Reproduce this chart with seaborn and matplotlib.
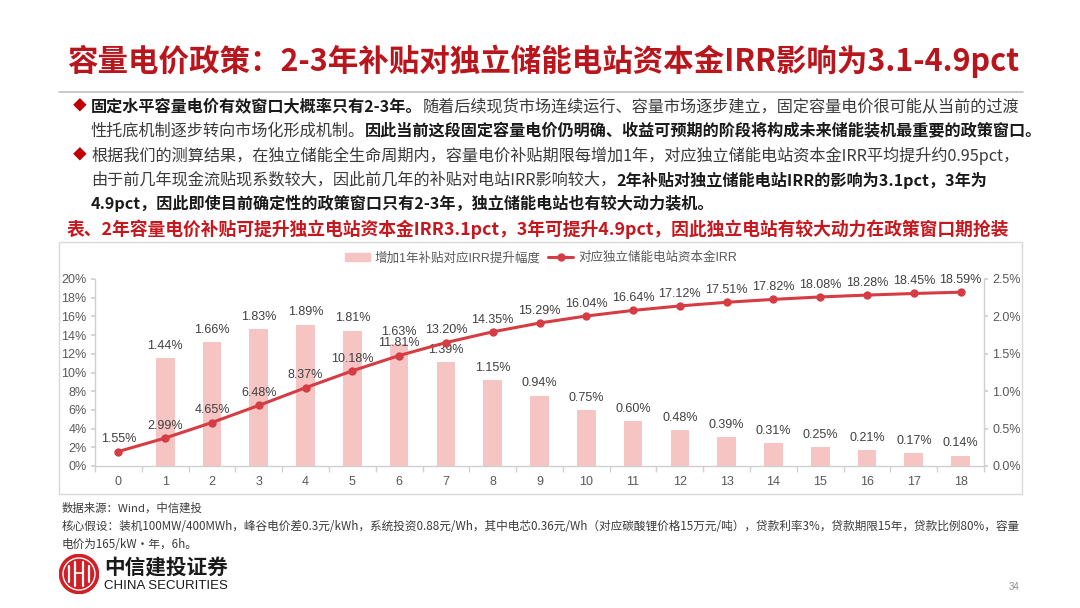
import matplotlib
matplotlib.use("Agg")
import matplotlib.pyplot as plt
import matplotlib.patches as mpatches
from matplotlib.lines import Line2D
import seaborn as sns
import numpy as np
import pandas as pd

# ---------------- data ----------------
years = list(range(19))
irr_total = [1.55, 2.99, 4.65, 6.48, 8.37, 10.18, 11.81, 13.20, 14.35, 15.29,
             16.04, 16.64, 17.12, 17.51, 17.82, 18.08, 18.28, 18.45, 18.59]
irr_increment = [np.nan, 1.44, 1.66, 1.83, 1.89, 1.81, 1.63, 1.39, 1.15, 0.94,
                 0.75, 0.60, 0.48, 0.39, 0.31, 0.25, 0.21, 0.17, 0.14]
left_ticks = [0, 2, 4, 6, 8, 10, 12, 14, 16, 18, 20]
right_ticks = [0.0, 0.5, 1.0, 1.5, 2.0, 2.5]
bar_label = "增加1年补贴对应IRR提升幅度"
line_label = "对应独立储能电站资本金IRR"

title = "容量电价政策：2-3年补贴对独立储能电站资本金IRR影响为3.1-4.9pct"
para_lines = [
    [("固定水平容量电价有效窗口大概率只有2-3年。", "bold"),
     ("随着后续现货市场连续运行、容量市场逐步建立，固定容量电价很可能从当前的过渡", "normal")],
    [("性托底机制逐步转向市场化形成机制。", "normal"),
     ("因此当前这段固定容量电价仍明确、收益可预期的阶段将构成未来储能装机最重要的政策窗口。", "bold")],
    [("根据我们的测算结果，在独立储能全生命周期内，容量电价补贴期限每增加1年，对应独立储能电站资本金IRR平均提升约0.95pct，", "normal")],
    [("由于前几年现金流贴现系数较大，因此前几年的补贴对电站IRR影响较大，", "normal"),
     ("2年补贴对独立储能电站IRR的影响为3.1pct，3年为", "bold")],
    [("4.9pct，因此即使目前确定性的政策窗口只有2-3年，独立储能电站也有较大动力装机。", "bold")],
]
bullet_rows = [0, 2]
caption = "表、2年容量电价补贴可提升独立电站资本金IRR3.1pct，3年可提升4.9pct，因此独立电站有较大动力在政策窗口期抢装"
source = "数据来源：Wind，中信建投"
assume1 = "核心假设：装机100MW/400MWh，峰谷电价差0.3元/kWh，系统投资0.88元/Wh，其中电芯0.36元/Wh（对应碳酸锂价格15万元/吨），贷款利率3%，贷款期限15年，贷款比例80%，容量"
assume2 = "电价为165/kW·年，6h。"
logo_cn = "中信建投证券"
logo_en = "CHINA SECURITIES"
page_no = "34"

# ---------------- style ----------------
sns.set_theme(style="white")
CJK = ["Noto Sans CJK SC", "DejaVu Sans"]
CHART = ["Liberation Sans", "Noto Sans CJK SC", "DejaVu Sans"]
plt.rcParams["font.family"] = CJK
plt.rcParams["axes.unicode_minus"] = False

W, H = 1080, 608
fig = plt.figure(figsize=(W / 100, H / 100), dpi=100)
fig.patch.set_facecolor("white")
renderer = fig.canvas.get_renderer()

def fx(x):
    return x / W

def fy(y):
    return 1 - y / H

def measure(txt, size, weight, family=CJK):
    t = fig.text(0, 0, txt, fontsize=size, fontweight=weight, family=family)
    w = t.get_window_extent(renderer).width
    t.remove()
    return w

def draw_runs(x, y, parts, size, colors):
    for txt, weight in parts:
        t = fig.text(fx(x), fy(y), txt, fontsize=size, fontweight=weight,
                     color=colors[weight], ha="left", va="center", family=CJK)
        x += t.get_window_extent(renderer).width

RED = "#B9151C"

# Title (fit to width)
tw = measure(title, 20, "bold")
tsize = 20 * (952 / tw)
fig.text(fx(67), fy(61), title, fontsize=tsize, fontweight="bold", color=RED,
         ha="left", va="center", family=CJK)
fig.add_artist(Line2D([fx(59), fx(1023)], [fy(92), fy(92)], color="#BFBFBF", lw=1.2))

# Paragraph lines
ref_w = sum(measure(t, 10, w) for t, w in para_lines[2])
psize = 10 * (929 / ref_w)
ys = [107, 131, 156, 180, 203]
colors = {"bold": "#1A1A1A", "normal": "#3A3A3A"}
for i, parts in enumerate(para_lines):
    if i in bullet_rows:
        fig.text(fx(73), fy(ys[i]), "◆", fontsize=psize * 0.85, color="#C00000",
                 ha="left", va="center", family=CJK)
    draw_runs(91, ys[i], parts, psize, colors)

cw = measure(caption, 10, "bold")
csize = 10 * (944 / cw)
fig.text(fx(67), fy(229), caption, fontsize=csize, fontweight="bold", color="#C8161D",
         ha="left", va="center", family=CJK)

# Chart box
fig.add_artist(mpatches.Rectangle((fx(59), fy(494)), fx(1022) - fx(59), fy(242) - fy(494),
                                  fill=False, edgecolor="#D9D9D9", lw=1.0))

# ---------------- chart ----------------
ax = fig.add_axes([fx(95), fy(466), fx(984) - fx(95), fy(279) - fy(466)])
ax2 = ax.twinx()

BAR = "#F5C4C3"
LINE = "#D63C43"
df = pd.DataFrame({"year": [str(y) for y in years], "inc": irr_increment, "tot": irr_total,
                   "pos": years})

sns.barplot(data=df, x="year", y="inc", order=[str(y) for y in years], ax=ax2,
            color=BAR, width=0.4, saturation=1, edgecolor="none")
sns.lineplot(data=df, x="pos", y="tot", ax=ax, color=LINE, lw=2.2, marker="o",
             markersize=6, markeredgewidth=0, zorder=5)

ax.set_zorder(ax2.get_zorder() + 1)
ax.patch.set_visible(False)

ax.set_xlim(-0.5, 18.5)
ax.set_ylim(0, 20)
ax2.set_ylim(0, 2.5)
ax.set_xlabel("")
ax.set_ylabel("")
ax2.set_xlabel("")
ax2.set_ylabel("")

ax.set_yticks(left_ticks)
ax.set_yticklabels([f"{v}%" for v in left_ticks])
ax2.set_yticks(right_ticks)
ax2.set_yticklabels([f"{v:.1f}%" for v in right_ticks])
ax.set_xticks(years)
ax.set_xticklabels([str(y) for y in years])
ax.set_xticks(np.arange(-0.5, 19, 1), minor=True)

GRID = "#D0D0D0"
TICKC = "#595959"
for a in (ax, ax2):
    for s in a.spines.values():
        s.set_visible(False)
ax.spines["left"].set_visible(True)
ax.spines["bottom"].set_visible(True)
ax2.spines["right"].set_visible(True)
for s in (ax.spines["left"], ax.spines["bottom"], ax2.spines["right"]):
    s.set_color(GRID)
    s.set_linewidth(1.0)

ax.tick_params(axis="x", which="major", length=0, pad=7, labelsize=9, labelcolor=TICKC)
ax.tick_params(axis="x", which="minor", length=4, color=GRID, direction="out", bottom=True)
ax.tick_params(axis="y", length=3, color=GRID, labelsize=9, labelcolor=TICKC, pad=3)
ax2.tick_params(axis="y", length=3, color=GRID, labelsize=9, labelcolor=TICKC, pad=3)
ax2.tick_params(axis="x", length=0, labelbottom=False)
for lab in ax.get_xticklabels() + ax.get_yticklabels() + ax2.get_yticklabels():
    lab.set_family(CHART)

LABC = "#404040"
for x, v in zip(years, irr_total):
    ax.annotate(f"{v:.2f}%", (x, v), xytext=(0, 4.5), textcoords="offset points",
                ha="center", va="bottom", fontsize=9, color=LABC, family=CHART)
for x, v in zip(years, irr_increment):
    if np.isnan(v):
        continue
    ax2.annotate(f"{v:.2f}%", (x, v), xytext=(0, 4.5), textcoords="offset points",
                 ha="center", va="bottom", fontsize=9, color=LABC, family=CHART)

handles = [mpatches.Patch(color=BAR, label=bar_label),
           Line2D([], [], color=LINE, lw=2.2, marker="o", markersize=6, markeredgewidth=0,
                  label=line_label)]
leg = fig.legend(handles=handles, loc="center", bbox_to_anchor=(fx(541), fy(258)), ncol=2,
                 frameon=False, fontsize=9, handlelength=2.0, handleheight=0.7,
                 columnspacing=0.6, handletextpad=0.4, borderpad=0)
for t in leg.get_texts():
    t.set_color(TICKC)
    t.set_family(CHART)

# ---------------- footer ----------------
FOOT = "#3A3A3A"
fig.text(fx(62), fy(508), source, fontsize=8.2, color=FOOT, style="italic",
         ha="left", va="center", family=CJK)
aw = measure(assume1, 8, "normal")
asize = 8 * (960 / aw)
fig.text(fx(62), fy(526), assume1, fontsize=asize, color=FOOT, style="italic",
         ha="left", va="center", family=CJK)
fig.text(fx(62), fy(544), assume2, fontsize=asize, color=FOOT, style="italic",
         ha="left", va="center", family=CJK)

# logo
lax = fig.add_axes([fx(59), fy(594), fx(99) - fx(59), fy(554) - fy(594)])
lax.set_xlim(-1, 1)
lax.set_ylim(-1, 1)
lax.set_aspect("equal")
lax.axis("off")
lax.add_patch(mpatches.Circle((0, 0), 0.98, color="#D21F26"))
lax.add_patch(mpatches.Circle((0, 0), 0.80, fill=False, edgecolor="white", lw=1.0))
for xx, hh in [(-0.48, 0.42), (-0.18, 0.62), (0.18, 0.62), (0.48, 0.42)]:
    lax.plot([xx, xx], [-hh, hh], color="white", lw=1.6)
lax.plot([-0.18, 0.18], [0.05, 0.05], color="white", lw=1.2)
cnw = measure(logo_cn, 10, "bold")
fig.text(fx(104), fy(567), logo_cn, fontsize=10 * 124 / cnw, fontweight="bold", color="#1A1A1A",
         ha="left", va="center", family=CJK)
enw = measure(logo_en, 10, "normal", family=["Liberation Sans", "DejaVu Sans"])
fig.text(fx(104), fy(586), logo_en, fontsize=10 * 124 / enw, color="#1A1A1A",
         ha="left", va="center", family=["Liberation Sans", "DejaVu Sans"])
fig.text(fx(1014), fy(587), page_no, fontsize=7, color="#8C8C8C",
         ha="center", va="center", family=CHART)

fig.savefig("out.png", dpi=100, facecolor="white")
